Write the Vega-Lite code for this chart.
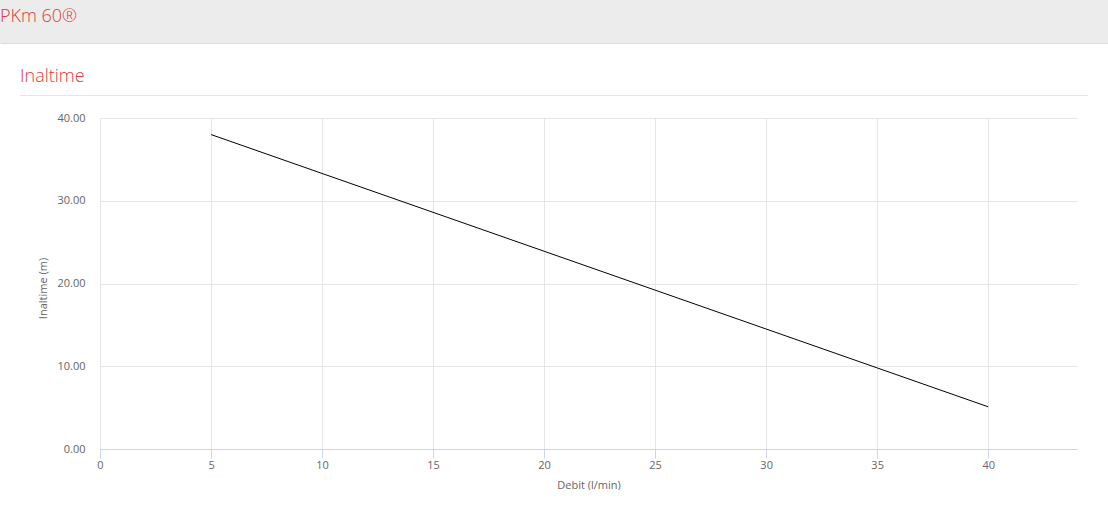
{
  "$schema": "https://vega.github.io/schema/vega-lite/v6.json",
  "padding": 0,
  "autosize": {"type": "pad"},
  "background": "#ffffff",
  "config": {
    "font": "Open Sans",
    "view": {"stroke": null},
    "concat": {"spacing": 0},
    "axis": {"labelFont": "Open Sans", "titleFont": "Open Sans"}
  },
  "datasets": {
    "curve": [
      {"debit": 5, "inaltime": 38.0},
      {"debit": 10, "inaltime": 33.3},
      {"debit": 15, "inaltime": 28.6},
      {"debit": 20, "inaltime": 23.9},
      {"debit": 25, "inaltime": 19.2},
      {"debit": 30, "inaltime": 14.5},
      {"debit": 35, "inaltime": 9.8},
      {"debit": 40, "inaltime": 5.1}
    ],
    "none": []
  },
  "spacing": 25,
  "vconcat": [
    {
      "width": 1108,
      "height": 43,
      "view": {"fill": "#ececec", "stroke": null},
      "title": {
        "text": "PKm 60®",
        "anchor": "start",
        "frame": "group",
        "orient": "top",
        "offset": -40,
        "baseline": "alphabetic",
        "fontSize": 18,
        "fontWeight": 300,
        "font": "Open Sans",
        "color": "#e0393e"
      },
      "data": {"name": "none"},
      "mark": {"type": "point", "opacity": 0},
      "encoding": {
        "x": {
          "field": "debit",
          "type": "quantitative",
          "scale": {"domain": [0, 1]},
          "axis": {"labels": false, "ticks": false, "grid": false, "title": null, "domainColor": "#dcdcdc", "domainWidth": 1}
        }
      }
    },
    {
      "spacing": 16,
      "vconcat": [
        {
          "spacing": 0,
          "hconcat": [
            {
              "width": 20,
              "height": 1,
              "data": {"name": "none"},
              "mark": {"type": "point", "opacity": 0}
            },
            {
              "width": 1068,
              "height": 1,
              "view": {"fill": "#e6e6e6", "stroke": null},
              "title": {
                "text": "Inaltime",
                "anchor": "start",
                "frame": "group",
                "orient": "top",
                "offset": -5,
                "baseline": "alphabetic",
                "fontSize": 18,
                "fontWeight": 300,
                "font": "Open Sans",
                "color": "#e0393e"
              },
              "data": {"name": "none"},
              "mark": {"type": "point", "opacity": 0}
            }
          ]
        },
        {
          "spacing": 0,
          "hconcat": [
            {
              "width": 37,
              "height": 1,
              "data": {"name": "none"},
              "mark": {"type": "point", "opacity": 0}
            },
            {
              "width": 977,
              "height": 331,
              "data": {"name": "curve"},
              "mark": {"type": "line", "color": "#000000", "strokeWidth": 1},
              "encoding": {
                "x": {
                  "field": "debit",
                  "type": "quantitative",
                  "title": "Debit (l/min)",
                  "scale": {"domain": [0, 44], "nice": false, "zero": false},
                  "axis": {
                    "values": [0, 5, 10, 15, 20, 25, 30, 35, 40],
                    "grid": true,
                    "gridColor": "#e6e6e6",
                    "domainColor": "#ccd6eb",
                    "tickColor": "#ccd6eb",
                    "tickSize": 9,
                    "labelPadding": 1,
                    "labelColor": "#666666",
                    "labelFontSize": 11,
                    "labelFlush": false,
                    "titleColor": "#666666",
                    "titleFontSize": 11,
                    "titleFontWeight": "normal",
                    "titlePadding": 9
                  }
                },
                "y": {
                  "field": "inaltime",
                  "type": "quantitative",
                  "title": "Inaltime (m)",
                  "scale": {"domain": [0, 40], "nice": false},
                  "axis": {
                    "values": [0, 10, 20, 30, 40],
                    "format": ".2f",
                    "grid": true,
                    "gridColor": "#e6e6e6",
                    "domain": false,
                    "ticks": false,
                    "tickSize": 0,
                    "labelPadding": 15,
                    "labelColor": "#666666",
                    "labelFontSize": 11,
                    "labelFlush": false,
                    "titleColor": "#666666",
                    "titleFontSize": 11,
                    "titleFontWeight": "normal",
                    "titlePadding": 8,
                    "titleY": 170
                  }
                }
              }
            }
          ]
        }
      ]
    }
  ]
}
